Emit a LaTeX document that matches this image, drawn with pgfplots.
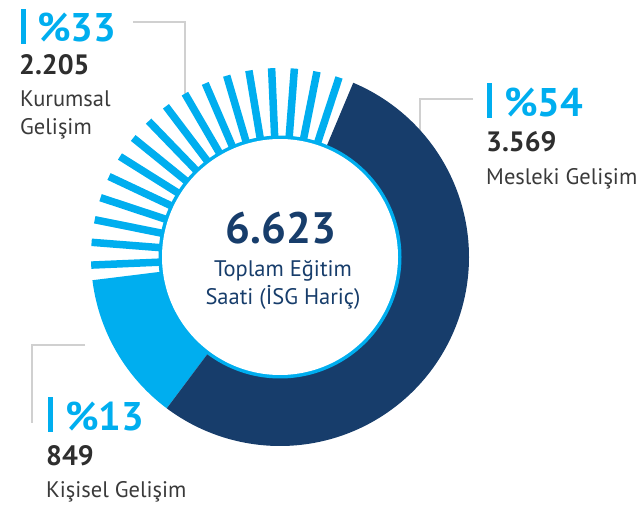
\documentclass[border=0pt]{standalone}
\usepackage{pgfplots}
\pgfplotsset{compat=1.18}
\usepackage{pgfplotstable}
\usepackage{fontspec}
\setmainfont{PT Sans}
\definecolor{navy}{HTML}{173D6B}
\definecolor{sky}{HTML}{00AEEF}
\definecolor{txt}{HTML}{2E2E2E}
\definecolor{lab}{HTML}{3A3A3A}
\definecolor{lead}{HTML}{D0D0D0}

\pgfplotstableread{
name value
Mesleki 3569
Kisisel 849
Kurumsal 2205
}\hours

\begin{document}
\begin{tikzpicture}
\pgfplotstablegetelem{0}{value}\of\hours \let\vM\pgfplotsretval
\pgfplotstablegetelem{1}{value}\of\hours \let\vK\pgfplotsretval
\pgfplotstablegetelem{2}{value}\of\hours \let\vR\pgfplotsretval
\pgfmathsetmacro\tot{\vM+\vK+\vR}
\pgfmathsetmacro\fM{\vM/\tot}
\pgfmathsetmacro\fK{\vK/\tot}
\pgfmathsetmacro\aA{67.2}
\pgfmathsetmacro\aB{\aA-360*\fM}
\pgfmathsetmacro\aC{\aB-360*\fK}
\pgfmathsetmacro\sS{\aA+4.6}
\pgfmathsetmacro\sE{\aC+360-4.6}
\pgfmathsetmacro\sP{(\sE-\sS)/16}
\begin{axis}[x=1pt,y=1pt,xmin=0,xmax=642,ymin=0,ymax=505,y dir=reverse,
  hide axis,clip=false,scale only axis,anchor=south west,at={(0pt,0pt)}]
% leader lines
\addplot[lead, line width=1.4pt] coordinates {(133,22) (185,22) (185,94)};
\addplot[lead, line width=1.4pt] coordinates {(473,99) (420,99) (420,175)};
\addplot[lead, line width=1.4pt] coordinates {(85,345) (32,345) (32,423)};
% Kisisel wedge
\addplot[fill=sky, draw=none, domain=\aC:\aB, samples=80, variable=\t]
  ({280+189*cos(\t)},{257-189*sin(\t)}) -- (axis cs:280,257) -- cycle;
% Mesleki wedge
\addplot[fill=navy, draw=none, domain=\aB:\aA, samples=200, variable=\t]
  ({280+189*cos(\t)},{257-189*sin(\t)}) -- (axis cs:280,257) -- cycle;
% Kurumsal stripes
\pgfplotsinvokeforeach{0,...,16}{
  \addplot[sky, line width=7.5pt, domain=110:189, samples=2, variable=\r]
    ({280+\r*cos(\sS+#1*\sP)},{257-\r*sin(\sS+#1*\sP)});
}
% inner ring and hole
\addplot[fill=sky, draw=none, domain=0:360, samples=180, variable=\t]
  ({280+121.5*cos(\t)},{257-121.5*sin(\t)}) -- cycle;
\addplot[fill=white, draw=none, domain=0:360, samples=180, variable=\t]
  ({280+118*cos(\t)},{257-118*sin(\t)}) -- cycle;
% label bars
\fill[sky] (axis cs:21,9) rectangle (axis cs:25.5,44);
\fill[sky] (axis cs:487,83) rectangle (axis cs:491.5,118);
\fill[sky] (axis cs:48,397) rectangle (axis cs:52.5,432);
% labels
\node[anchor=base west, inner sep=0pt, text=sky, font=\fontsize{40}{40}\selectfont\bfseries] at (axis cs:37,42) {\%33};
\node[anchor=base west, inner sep=0pt, text=txt, font=\fontsize{28}{28}\selectfont\bfseries] at (axis cs:19,75) {2.205};
\node[anchor=base west, inner sep=0pt, text=lab, font=\fontsize{22.5}{22.5}\selectfont] at (axis cs:20,107) {Kurumsal};
\node[anchor=base west, inner sep=0pt, text=lab, font=\fontsize{22.5}{22.5}\selectfont] at (axis cs:20,135) {Gelişim};

\node[anchor=base west, inner sep=0pt, text=sky, font=\fontsize{40}{40}\selectfont\bfseries] at (axis cs:504,117) {\%54};
\node[anchor=base west, inner sep=0pt, text=txt, font=\fontsize{28}{28}\selectfont\bfseries] at (axis cs:486,152) {3.569};
\node[anchor=base west, inner sep=0pt, text=lab, font=\fontsize{22.5}{22.5}\selectfont] at (axis cs:486,185) {Mesleki Gelişim};

\node[anchor=base west, inner sep=0pt, text=sky, font=\fontsize{40}{40}\selectfont\bfseries] at (axis cs:65,430) {\%13};
\node[anchor=base west, inner sep=0pt, text=txt, font=\fontsize{28}{28}\selectfont\bfseries] at (axis cs:46,465) {849};
\node[anchor=base west, inner sep=0pt, text=lab, font=\fontsize{22.5}{22.5}\selectfont] at (axis cs:46,497) {Kişisel Gelişim};

\node[anchor=base, inner sep=0pt, text=navy, font=\fontsize{44}{44}\selectfont\bfseries] at (axis cs:281,243) {6.623};
\node[anchor=base, inner sep=0pt, text=navy, font=\fontsize{22.5}{22.5}\selectfont] at (axis cs:283,276) {Toplam Eğitim};
\node[anchor=base, inner sep=0pt, text=navy, font=\fontsize{22.5}{22.5}\selectfont] at (axis cs:283,304) {Saati (İSG Hariç)};
\end{axis}
\pgfresetboundingbox
\useasboundingbox (0pt,0pt) rectangle (642pt,505pt);
\end{tikzpicture}
\end{document}
